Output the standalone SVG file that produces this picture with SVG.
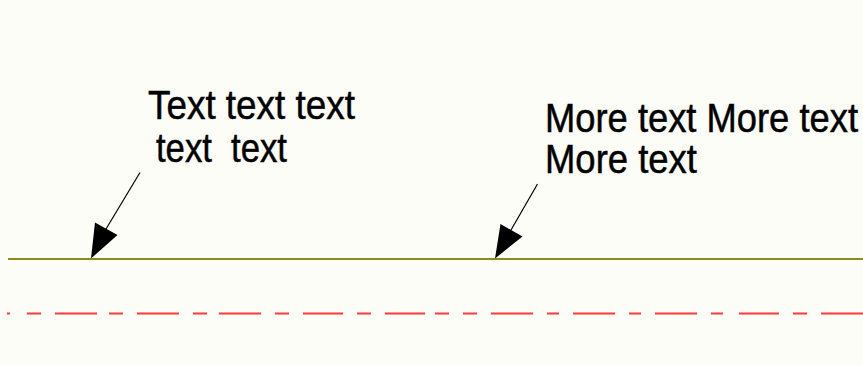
<svg xmlns="http://www.w3.org/2000/svg" width="863" height="365" viewBox="0 0 863 365">
<style>
.lbl{font-family:"Liberation Sans",Arial,sans-serif;font-size:36.5px;fill:#000;stroke:#000;stroke-width:0.45}
.lead{stroke:#000;stroke-width:1.2;fill:none}
.head{fill:#000}
</style>
<rect width="863" height="365" fill="#fdfdf8"/>
<g id="baseline">
<line x1="8" y1="259" x2="863" y2="259" stroke="#8c8c1e" stroke-width="1.8"/>
</g>
<g id="centerline">
<path d="M7 313.5H10M27 313.5H41M55 313.5H97M109 313.5H123M137 313.5H179M193 313.5H207M219 313.5H261M275 313.5H289M303 313.5H343M357 313.5H371M385 313.5H425M435 313.5H449M463 313.5H477M491 313.5H533M547 313.5H559M573 313.5H615M629 313.5H641M655 313.5H697M711 313.5H723M739 313.5H779M793 313.5H807M821 313.5H863" stroke="#ff3a3a" stroke-width="2" fill="none"/>
</g>
<g id="label1">
<text class="lbl" transform="translate(0 119) scale(1 1.123)" x="148" y="0" textLength="207" lengthAdjust="spacingAndGlyphs">Text text text</text>
<text class="lbl" transform="translate(0 161.5) scale(1 1.123)" x="156" y="0" textLength="131" lengthAdjust="spacingAndGlyphs" xml:space="preserve">text  text</text>
</g>
<g id="label2">
<text class="lbl" transform="translate(0 131.5) scale(1 1.123)" x="545" y="0" textLength="313" lengthAdjust="spacingAndGlyphs">More text More text</text>
<text class="lbl" transform="translate(0 173.3) scale(1 1.123)" x="545" y="0" textLength="152" lengthAdjust="spacingAndGlyphs">More text</text>
</g>
<g id="connectors">
<line class="lead" x1="140" y1="172.5" x2="106" y2="229"/>
<polygon class="head" points="91,258.5 95,222.5 117.5,235"/>
<line class="lead" x1="537.5" y1="184" x2="511" y2="230"/>
<polygon class="head" points="495,258.5 500.5,224 522.5,236.5"/>
</g>
</svg>
